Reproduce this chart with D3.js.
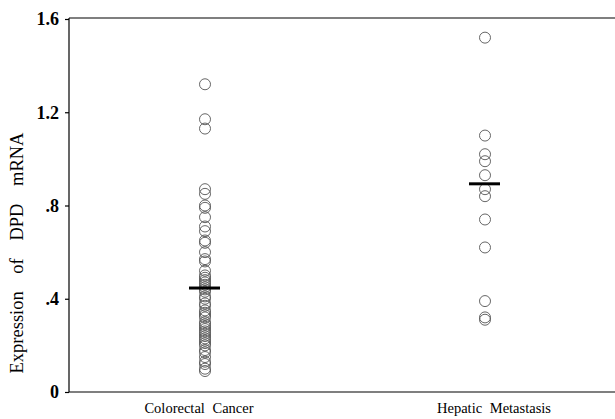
<!DOCTYPE html>
<html>
<head>
<meta charset="utf-8">
<script src="https://cdn.jsdelivr.net/npm/d3@7"></script>
<style>
  body { margin: 0; background: #fff; }
  svg { display: block; }
  text { font-family: "Liberation Serif", "Times New Roman", serif; fill: #000; }
</style>
</head>
<body>
<svg id="chart" width="615" height="419"></svg>
<script>
const categories = ["Colorectal Cancer", "Hepatic Metastasis"];
const colorectalValues = [1.32, 1.17, 1.13, 0.87, 0.85, 0.80, 0.79, 0.75, 0.71, 0.69, 0.65, 0.64,
  0.60, 0.57, 0.56, 0.52, 0.50, 0.49, 0.48, 0.47, 0.46, 0.45, 0.44, 0.43, 0.41, 0.40, 0.38,
  0.37, 0.35, 0.34, 0.33, 0.32, 0.30, 0.29, 0.28, 0.27, 0.26, 0.25, 0.24, 0.23, 0.22, 0.21,
  0.20, 0.18, 0.17, 0.15, 0.13, 0.12, 0.10, 0.09];
const hepaticValues = [1.52, 1.10, 1.02, 0.99, 0.93, 0.87, 0.84, 0.74, 0.62, 0.39, 0.32, 0.31];
const centerLines = [0.446, 0.893];
const yTicks = [0, 0.4, 0.8, 1.2, 1.6];
const yTickLabels = ["0", ".4", ".8", "1.2", "1.6"];
const yTitle = "Expression of DPD mRNA";

const svg = d3.select("#chart");
const plotLeft = 69, plotRight = 615, plotTop = 18, plotBottom = 392;

const y = d3.scaleLinear().domain([0, 1.6]).range([plotBottom, 19]);
const x = d3.scalePoint().domain(categories).range([205, 485]);

// frame: top line
svg.append("line").attr("x1", plotLeft).attr("x2", plotRight).attr("y1", plotTop).attr("y2", plotTop)
  .attr("stroke", "#000").attr("stroke-width", 1.2);
// bottom line
svg.append("line").attr("x1", plotLeft).attr("x2", plotRight).attr("y1", plotBottom).attr("y2", plotBottom)
  .attr("stroke", "#000").attr("stroke-width", 1.2);

// y axis
const yAxis = d3.axisLeft(y).tickValues(yTicks)
  .tickFormat((d, i) => yTickLabels[i]).tickSizeOuter(0).tickSize(4).tickPadding(6);
const gy = svg.append("g").attr("transform", `translate(${plotLeft},0)`).call(yAxis);
gy.select(".domain").attr("stroke", "#000").attr("stroke-width", 1.2)
  .attr("d", `M0,${plotTop}V${plotBottom}`);
gy.selectAll(".tick line").attr("stroke", "#000").attr("stroke-width", 1.2);
gy.selectAll(".tick text").style("font-family", '"Liberation Serif", serif')
  .style("font-size", "18px").style("font-weight", "bold").attr("fill", "#000");

// y title
svg.append("text")
  .attr("transform", `translate(23,253) rotate(-90)`)
  .attr("text-anchor", "middle")
  .style("font-size", "18.5px")
  .style("word-spacing", "13px")
  .text(yTitle);

// x labels
const labelDx = [-6, 9];
svg.selectAll(".xlab").data(categories).enter().append("text")
  .attr("class", "xlab")
  .attr("x", (d, i) => x(d) + labelDx[i])
  .attr("y", 413)
  .attr("text-anchor", "middle")
  .style("font-size", "14.5px")
  .style("word-spacing", "4px")
  .text(d => d);

// points
const series = [colorectalValues, hepaticValues];
series.forEach((vals, i) => {
  svg.selectAll(null).data(vals).enter().append("circle")
    .attr("cx", x(categories[i]))
    .attr("cy", d => y(d))
    .attr("r", 5.5)
    .attr("fill", "none")
    .attr("stroke", "#555")
    .attr("stroke-width", 0.9);
});

// center lines
svg.selectAll(".cl").data(centerLines).enter().append("line")
  .attr("class", "cl")
  .attr("x1", (d, i) => x(categories[i]) - 16)
  .attr("x2", (d, i) => x(categories[i]) + 15)
  .attr("y1", d => y(d)).attr("y2", d => y(d))
  .attr("stroke", "#000").attr("stroke-width", 3);
</script>
</body>
</html>
